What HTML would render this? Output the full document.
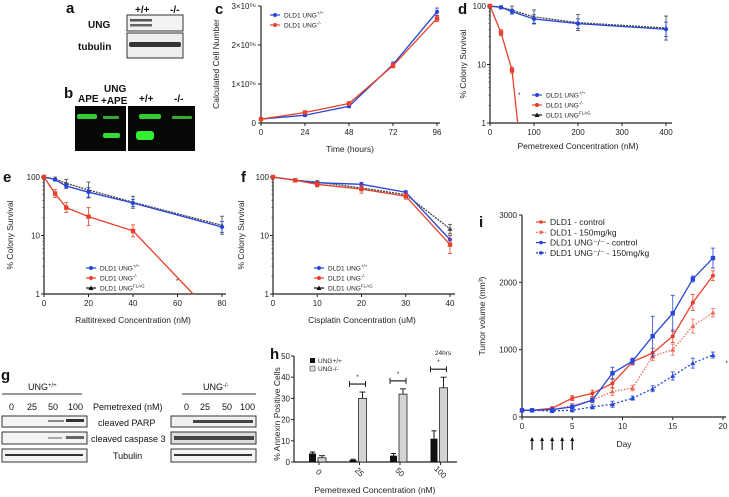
<!DOCTYPE html>
<html><head><meta charset="utf-8"><style>
html,body{margin:0;padding:0;background:#fff;width:729px;height:497px;overflow:hidden}
svg{display:block;font-family:"Liberation Sans",sans-serif}
.tk{font-size:8px;fill:#222}
.tt{font-size:8.5px;fill:#222}
.lg{font-size:6.5px;fill:#222}
.pl{font-size:15px;font-weight:bold;fill:#111}
.bl{font-size:10px;font-weight:bold;fill:#111}
.gl{font-size:9px;fill:#111}
</style></head><body>
<svg id="fig" width="729" height="497" viewBox="0 0 729 497">
<!-- panel a -->
<g>
<text class="pl" x="66" y="13">a</text>
<text class="bl" x="135" y="13">+/+</text><text class="bl" x="170" y="13">-/-</text>
<text class="bl" x="88" y="28">UNG</text><text class="bl" x="78" y="50">tubulin</text>
<rect x="127" y="15" width="56" height="16" fill="#f2f2f2" stroke="#333"/>
<rect x="130" y="19" width="22" height="2.5" fill="#555"/><rect x="130" y="24" width="22" height="2.5" fill="#666"/>
<rect x="127" y="33" width="56" height="25" fill="#eee" stroke="#333"/>
<rect x="129" y="42" width="52" height="5" fill="#333" rx="2"/>
</g>
<!-- panel b -->
<g>
<text class="pl" x="64" y="98">b</text>
<text class="bl" x="78" y="102">APE</text><text class="bl" x="104" y="92">UNG</text><text class="bl" x="101" y="104">+APE</text>
<text class="bl" x="139" y="102">+/+</text><text class="bl" x="174" y="102">-/-</text>
<rect x="75" y="106" width="51" height="45" fill="#050805"/>
<rect x="128" y="106" width="67" height="45" fill="#050805"/>
<rect x="77" y="114" width="20" height="5" fill="#3c3" rx="2"/>
<rect x="103" y="116" width="16" height="3" fill="#3a3" rx="1"/>
<rect x="103" y="133" width="17" height="5" fill="#3d3" rx="2"/>
<rect x="139" y="114" width="22" height="5" fill="#3c3" rx="2"/>
<rect x="136" y="131" width="18" height="9" fill="#3e3" rx="3"/>
<rect x="172" y="116" width="20" height="3" fill="#3a3" rx="1"/>
</g>
<!-- panel g -->
<g>
<text class="pl" x="1" y="380">g</text>
<text class="gl" x="28" y="390">UNG<tspan font-size="6" dy="-3">+/+</tspan></text>
<line x1="2" y1="394" x2="82" y2="394" stroke="#333"/>
<text class="gl" x="203" y="390">UNG<tspan font-size="6" dy="-3">-/-</tspan></text>
<line x1="182" y1="394" x2="256" y2="394" stroke="#333"/>
<text class="gl" x="9" y="410">0</text><text class="gl" x="27" y="410">25</text><text class="gl" x="48" y="410">50</text><text class="gl" x="68" y="410">100</text>
<text class="gl" x="93" y="410">Pemetrexed (nM)</text>
<text class="gl" x="184" y="410">0</text><text class="gl" x="200" y="410">25</text><text class="gl" x="222" y="410">50</text><text class="gl" x="240" y="410">100</text>
<text class="gl" x="98" y="426">cleaved PARP</text>
<text class="gl" x="91" y="442">cleaved caspase 3</text>
<text class="gl" x="113" y="459">Tubulin</text>
<rect x="2" y="416" width="85" height="11" fill="#f4f4f4" stroke="#333"/>
<rect x="2" y="432" width="85" height="12" fill="#f4f4f4" stroke="#333"/>
<rect x="2" y="449" width="85" height="13" fill="#f4f4f4" stroke="#333"/>
<rect x="171" y="416" width="85" height="11" fill="#f0f0f0" stroke="#333"/>
<rect x="171" y="432" width="85" height="12" fill="#ddd" stroke="#333"/>
<rect x="171" y="449" width="85" height="13" fill="#f4f4f4" stroke="#333"/>
<rect x="48" y="420" width="16" height="2" fill="#888"/><rect x="66" y="419" width="18" height="3" fill="#333"/>
<rect x="66" y="436" width="18" height="3" fill="#666"/><rect x="48" y="437" width="14" height="2" fill="#aaa"/>
<rect x="5" y="454" width="78" height="2" fill="#333"/>
<rect x="193" y="420" width="60" height="3" fill="#444"/>
<rect x="174" y="436" width="80" height="4" fill="#444"/>
<rect x="174" y="454" width="78" height="2" fill="#333"/>
</g>
<g id="charts"></g>
</svg>
<script>
// ---- panel c data ----
const cX=[0,24,48,72,96];
const cBlue=[0.1,0.2,0.43,1.5,2.85];
const cRed=[0.1,0.27,0.5,1.47,2.68];
const cTicksY=["0","1×10⁰⁶","2×10⁰⁶","3×10⁰⁶"];
// ---- panel d data ----
const dX=[0,25,50,100,200,400];
const dBlue=[100,95,80,60,50,40];
const dBlack=[100,95,85,65,52,42];
const dRedX=[0,25,50];
const dRed=[100,35,8];
const dRedEndX=63;
// ---- panel e data ----
const eX=[0,5,10,20,40,80];
const eBlue=[100,90,70,55,36,14];
const eBlack=[100,92,78,60,37,15];
const eRedX=[0,5,10,20,40];
const eRed=[100,52,30,21,12];
const eRedEndX=67;
// ---- panel f data ----
const fX=[0,5,10,20,30,40];
const fBlue=[100,88,80,75,55,8.5];
const fRed=[100,88,75,62,47,7];
const fBlack=[100,88,82,65,50,13];
// ---- panel h data ----
const hCats=["0","25","50","100"];
const hBlack=[4,1,3,11];
const hBlackErr=[0.7,0.3,1,3.7];
const hGray=[2,30,32,35];
const hGrayErr=[1,3,2.5,5];
// ---- panel i data ----
const iDays=[0,1,3,5,7,9,11,13,15,17,19];
const iRedCtrl=[100,100,130,280,350,500,820,950,1200,1700,2100];
const iRedTrt=[100,100,110,170,250,380,430,900,1000,1350,1550];
const iBlueCtrl=[100,100,110,150,250,650,830,1200,1540,2050,2360];
const iBlueTrt=[100,100,90,100,150,190,280,420,610,800,920];

const NS="http://www.w3.org/2000/svg";
const root=document.getElementById('charts');
const BLUE="#2646d8",RED="#e8402a";
function mk(tag,attrs,parent,txt){const e=document.createElementNS(NS,tag);for(const k in attrs)e.setAttribute(k,attrs[k]);if(txt!==undefined)e.textContent=txt;(parent||root).appendChild(e);return e;}
function lin(d0,d1,r0,r1){return v=>r0+(v-d0)/(d1-d0)*(r1-r0);}
function logs(d0,d1,r0,r1){return v=>r0+(Math.log10(v)-Math.log10(d0))/(Math.log10(d1)-Math.log10(d0))*(r1-r0);}
// err returns an error-bar half-length in pixels
function series(g,xs,ys,sx,sy,col,dash,marker,err){
  const pts=xs.map((x,i)=>sx(x)+","+sy(ys[i])).join(" ");
  const l=mk('polyline',{points:pts,fill:'none',stroke:col,'stroke-width':1.3,'stroke-dasharray':dash||''},g);
  
  
  xs.forEach((x,i)=>{
    const cx=sx(x),cy=sy(ys[i]);
    if(err){const e=err(ys[i],i);if(e>0.5){mk('line',{x1:cx,x2:cx,y1:cy-e,y2:cy+e,stroke:col,'stroke-width':0.8},g);mk('line',{x1:cx-2,x2:cx+2,y1:cy-e,y2:cy-e,stroke:col,'stroke-width':0.8},g);mk('line',{x1:cx-2,x2:cx+2,y1:cy+e,y2:cy+e,stroke:col,'stroke-width':0.8},g);}}
    let m;
    if(marker==='tri') m=mk('polygon',{points:`${cx},${cy-2.5} ${cx-2.5},${cy+2} ${cx+2.5},${cy+2}`,fill:col},g);
    else if(marker==='sq') m=mk('rect',{x:cx-2.2,y:cy-2.2,width:4.4,height:4.4,fill:col},g);
    else m=mk('circle',{cx:cx,cy:cy,r:2,fill:col},g);
    
    
  });
}
function axes(g,x0,x1,y0,y1){mk('line',{x1:x0,x2:x0,y1:y0,y2:y1,stroke:'#222','stroke-width':1.2},g);mk('line',{x1:x0,x2:x1,y1:y0,y2:y0,stroke:'#222','stroke-width':1.2},g);}
function xticks(g,vals,sx,y){vals.forEach(v=>{mk('line',{x1:sx(v),x2:sx(v),y1:y,y2:y+3,stroke:'#222'},g);const t=mk('text',{x:sx(v),y:y+12,'text-anchor':'middle',class:'tk'},g,String(v));});}
function logyticks(g,x,sy){[1,10,100].forEach(v=>{mk('line',{x1:x-3,x2:x,y1:sy(v),y2:sy(v),stroke:'#222'},g);const t=mk('text',{x:x-4,y:sy(v)+3,'text-anchor':'end',class:'tk'},g,String(v));});
  for(let d=1;d<=10;d*=10)for(let k=2;k<10;k++)mk('line',{x1:x-1.5,x2:x,y1:sy(d*k),y2:sy(d*k),stroke:'#222','stroke-width':0.6},g);}
function ylabel(g,x,y,txt,fs){const t=mk('text',{x:x,y:y,'text-anchor':'middle',class:'tt',transform:`rotate(-90 ${x} ${y})`},g,txt);if(fs)t.setAttribute('font-size',fs);}
function xlabel(g,x,y,txt){const t=mk('text',{x:x,y:y,'text-anchor':'middle',class:'tt'},g,txt);}
function legend3(g,x,y,three){
  const items=[[BLUE,'DLD1 UNG','+/+','circle'],[RED,'DLD1 UNG','-/-','sq']];
  if(three)items.push(['#111','DLD1 UNG','FLAG','tri']);
  items.forEach((it,i)=>{const yy=y+i*10;const le=mk('g',{},g);
    mk('line',{x1:x,x2:x+10,y1:yy,y2:yy,stroke:it[0],'stroke-width':1.2},le);
    if(it[3]==='tri')mk('polygon',{points:`${x+5},${yy-2.5} ${x+2.5},${yy+2} ${x+7.5},${yy+2}`,fill:it[0]},le);
    else mk('circle',{cx:x+5,cy:yy,r:2,fill:it[0]},le);
    const t=mk('text',{x:x+14,y:yy+2.5,class:'lg'},le,it[1]);mk('tspan',{'font-size':4.5,dy:-3},t,it[2]);});
}
function panelLetter(x,y,l){const t=mk('text',{x:x,y:y,class:'pl'},root,l);}

// ---- C ----
(function(){const g=mk('g',{});
 const sx=lin(0,96,261,437),sy=lin(0,3,123,6);
 axes(g,261,440,123,6);xticks(g,cX,sx,123);
 cTicksY.forEach((t,i)=>{mk('line',{x1:258,x2:261,y1:sy(i),y2:sy(i),stroke:'#222'},g);const tt=mk('text',{x:256,y:sy(i)+3,'text-anchor':'end',class:'tk'},g,t);});
 series(g,cX,cBlue,sx,sy,BLUE,'','circle',v=>v+1);
 series(g,cX,cRed,sx,sy,RED,'','sq',v=>v*0.8+1);
 ylabel(g,219,64,'Calculated Cell Number');xlabel(g,350,152,'Time (hours)');
 legend3(g,270,15,false);
})();
panelLetter(215,14,'c');
// ---- D ----
(function(){const g=mk('g',{});
 const sx=lin(0,400,490,666),sy=logs(1,100,123,6);
 axes(g,490,672,123,6);xticks(g,[0,100,200,300,400],sx,123);logyticks(g,490,sy);
 const de=[0,1.5,4,7,8,12];
 series(g,dX,dBlack,sx,sy,'#444','2,1','tri',(v,i)=>de[i]);
 series(g,dX,dBlue,sx,sy,BLUE,'','circle',(v,i)=>de[i]*0.6);
 series(g,dRedX,dRed,sx,sy,RED,'','sq',(v,i)=>i?3:0);
 mk('line',{x1:sx(dRedX[2]),y1:sy(dRed[2]),x2:sx(dRedEndX),y2:sy(1),stroke:RED,'stroke-width':1.3},g);
 ylabel(g,466,64,'% Colony Survival');xlabel(g,578,149,'Pemetrexed Concentration (nM)');
 legend3(g,532,95,true);mk('text',{x:518,y:97,class:'lg'},g,'*');
})();
panelLetter(458,14,'d');
// ---- E ----
(function(){const g=mk('g',{});
 const sx=lin(0,80,44,222),sy=logs(1,100,294,177);
 axes(g,44,226,294,177);xticks(g,[0,20,40,60,80],sx,294);logyticks(g,44,sy);
 const ee=[0,2,4,8,6,9];
 series(g,eX,eBlack,sx,sy,'#444','2,1','tri',(v,i)=>ee[i]);
 series(g,eX,eBlue,sx,sy,BLUE,'','circle',(v,i)=>ee[i]*0.6);
 const er=[0,4,5,9,6];
 series(g,eRedX,eRed,sx,sy,RED,'','sq',(v,i)=>er[i]);
 mk('line',{x1:sx(40),y1:sy(12),x2:sx(eRedEndX),y2:sy(1),stroke:RED,'stroke-width':1.3},g);
 ylabel(g,13,235,'% Colony Survival');xlabel(g,133,323,'Raltitrexed Concentration (nM)');
 legend3(g,86,268,true);mk('text',{x:176,y:283,class:'lg'},g,'*');
})();
panelLetter(3,182,'e');
// ---- F ----
(function(){const g=mk('g',{});
 const sx=lin(0,40,273,450),sy=logs(1,100,294,177);
 axes(g,273,455,294,177);xticks(g,[0,10,20,30,40],sx,294);logyticks(g,273,sy);
 const fe=[0,1.5,2.5,4,3,9];
 series(g,fX,fBlack,sx,sy,'#444','2,1','tri',(v,i)=>fe[i]*0.5);
 series(g,fX,fBlue,sx,sy,BLUE,'','circle',(v,i)=>fe[i]*0.5);
 series(g,fX,fRed,sx,sy,RED,'','sq',(v,i)=>fe[i]);
 ylabel(g,244,235,'% Colony Survival');xlabel(g,362,323,'Cisplatin Concentration (uM)');
 legend3(g,314,268,true);
})();
panelLetter(241,182,'f');
// ---- H ----
(function(){const g=mk('g',{});
 const sy=lin(0,50,462,356);const gx=i=>319+i*40.5;
 axes(g,294,457,462,356);
 [0,10,20,30,40,50].forEach(v=>{mk('line',{x1:291,x2:294,y1:sy(v),y2:sy(v),stroke:'#222'},g);const t=mk('text',{x:290,y:sy(v)+3,'text-anchor':'end',class:'tk'},g,String(v));});
 hCats.forEach((c,i)=>{const cx=gx(i);
  const b=mk('rect',{x:cx-10,y:sy(hBlack[i]),width:7,height:462-sy(hBlack[i]),fill:'#111'},g);
  mk('line',{x1:cx-6.5,x2:cx-6.5,y1:sy(hBlack[i]),y2:sy(hBlack[i]+hBlackErr[i]),stroke:'#111'},g);mk('line',{x1:cx-9,x2:cx-4,y1:sy(hBlack[i]+hBlackErr[i]),y2:sy(hBlack[i]+hBlackErr[i]),stroke:'#111'},g);
  const r=mk('rect',{x:cx-1,y:sy(hGray[i]),width:8,height:462-sy(hGray[i]),fill:'#d4d4d4',stroke:'#222','stroke-width':0.8},g);
  mk('line',{x1:cx+3,x2:cx+3,y1:sy(hGray[i]),y2:sy(hGray[i]+hGrayErr[i]),stroke:'#222'},g);mk('line',{x1:cx,x2:cx+6,y1:sy(hGray[i]+hGrayErr[i]),y2:sy(hGray[i]+hGrayErr[i]),stroke:'#222'},g);
  mk('line',{x1:cx,x2:cx,y1:462,y2:465,stroke:'#222'},g);
  const t=mk('text',{x:cx-2,y:474,'text-anchor':'middle',class:'tk',transform:`rotate(45 ${cx-2} 474)`},g,c);
  if(i>0){const yy=sy(hGray[i]+hGrayErr[i])-8;mk('line',{x1:cx-10,x2:cx+6,y1:yy,y2:yy,stroke:'#222','stroke-width':1.2},g);mk('line',{x1:cx-10,x2:cx-10,y1:yy-3,y2:yy+3,stroke:'#222'},g);mk('line',{x1:cx+6,x2:cx+6,y1:yy-3,y2:yy+3,stroke:'#222'},g);mk('text',{x:cx-2,y:yy-5,'text-anchor':'middle',class:'lg'},g,'*');}
 });
 mk('text',{x:443,y:355,'text-anchor':'middle',class:'lg'},g,'24hrs');
 mk('rect',{x:310,y:358,width:5,height:5,fill:'#111'},g);mk('text',{x:318,y:363,class:'lg'},g,'UNG+/+');
 mk('rect',{x:310,y:366,width:5,height:5,fill:'#ddd',stroke:'#222','stroke-width':0.5},g);mk('text',{x:318,y:371,class:'lg'},g,'UNG-/-');
 ylabel(g,280,414,'% Annexin Positive Cells','7.5');xlabel(g,375,493,'Pemetrexed Concentration (nM)');
})();
panelLetter(270,359,'h');
// ---- I ----
(function(){const g=mk('g',{});
 const sx=lin(0,20,522,723),sy=lin(0,3000,417,215);
 axes(g,522,726,417,215);xticks(g,[0,5,10,15,20],sx,417);
 [0,1000,2000,3000].forEach(v=>{mk('line',{x1:519,x2:522,y1:sy(v),y2:sy(v),stroke:'#222'},g);const t=mk('text',{x:517,y:sy(v)+3,'text-anchor':'end',class:'tk'},g,String(v));});
 const ie=[0,0,2,3,4,6,4,6,8,10,6];
 series(g,iDays,iRedTrt,sx,sy,'#f06a5a','1.5,1.5','tri',(v,i)=>ie[i]*0.7);
 series(g,iDays,iBlueTrt,sx,sy,BLUE,'2,2','tri',(v,i)=>ie[i]*0.5);
 series(g,iDays,iRedCtrl,sx,sy,RED,'','circle',(v,i)=>ie[i]*0.8);
 const ibe=[0,0,1,2,2,6,3,20,18,3,10];
 series(g,iDays,iBlueCtrl,sx,sy,BLUE,'','sq',(v,i)=>ibe[i]);
 [1,2,3,4,5].forEach(d=>{const x=sx(d);mk('line',{x1:x,x2:x,y1:450,y2:440,stroke:'#111','stroke-width':1.2},g);mk('polygon',{points:`${x},437 ${x-2},441 ${x+2},441`,fill:'#111'},g);});
 mk('text',{x:728,y:365,'text-anchor':'end',class:'lg'},g,'*');
 ylabel(g,485,316,'Tumor volume (mm³)');xlabel(g,624,447,'Day');
 const L=[[RED,'','DLD1 - control'],['#f06a5a','2,1','DLD1 - 150mg/kg'],[BLUE,'','DLD1 UNG⁻/⁻ - control'],[BLUE,'2,1','DLD1 UNG⁻/⁻ - 150mg/kg']];
 L.forEach((it,i)=>{const y=222+i*10.3;const le=mk('g',{},g);
  mk('line',{x1:536,x2:546,y1:y,y2:y,stroke:it[0],'stroke-dasharray':it[1],'stroke-width':1.2},le);mk('circle',{cx:541,cy:y,r:1.8,fill:it[0]},le);
  mk('text',{x:550,y:y+3,class:'tt','font-size':'8'},le,it[2]);});
})();
panelLetter(479,227,'i');
</script>
</body></html>
